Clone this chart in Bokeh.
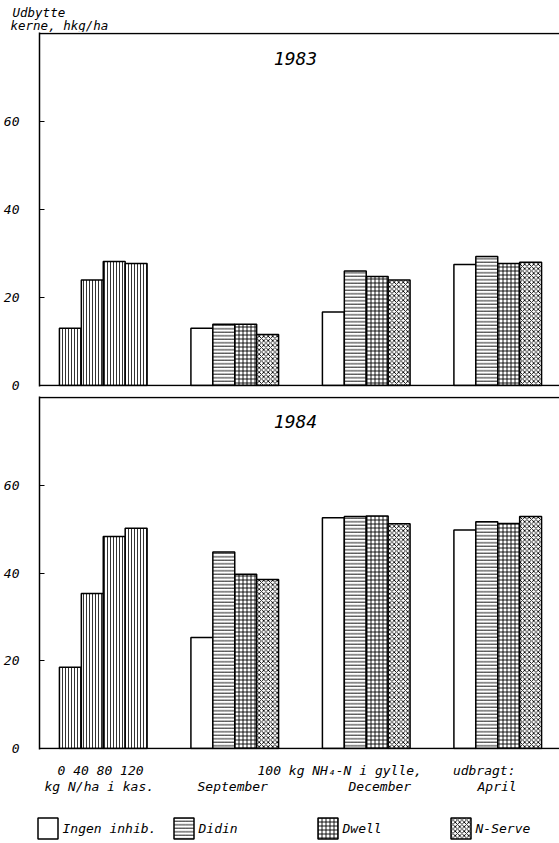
from bokeh.plotting import figure
from bokeh.models import Range1d, FixedTicker, Span, Label, Legend, LegendItem
from bokeh.layouts import column
from bokeh.embed import file_html
from bokeh.resources import INLINE

# ---------------- data ----------------
n_rates = ["0", "40", "80", "120"]
inhibitors = ["Ingen inhib.", "Didin", "Dwell", "N-Serve"]
timings = ["September", "December", "April"]
years = ["1983", "1984"]
y_ticks = [0, 20, 40, 60]

kas_1983 = [13.0, 24.0, 28.2, 27.7]
ingen_1983 = [13.0, 16.7, 27.5]
didin_1983 = [13.9, 26.0, 29.3]
dwell_1983 = [13.9, 24.8, 27.7]
nserve_1983 = [11.6, 24.0, 28.0]

kas_1984 = [18.5, 35.3, 48.3, 50.2]
ingen_1984 = [25.3, 52.6, 49.8]
didin_1984 = [44.8, 52.9, 51.7]
dwell_1984 = [39.7, 53.0, 51.3]
nserve_1984 = [38.5, 51.2, 52.9]

# ---------------- layout helpers ----------------
FONT = "DejaVu Sans Mono"
W = 559
GROUP_PITCH = 6
PX = 22.0                      # pixels per bar unit
X_START = -0.5 - 20 / PX
X_END = X_START + (W - 37) / PX

hatch_styles = {
    "Ingen inhib.": dict(hatch_pattern=None),
    "Didin": dict(hatch_pattern="horizontal_line", hatch_scale=3.5, hatch_weight=0.9),
    "Dwell": dict(hatch_pattern="cross", hatch_scale=4, hatch_weight=0.9),
    "N-Serve": dict(hatch_pattern="diagonal_cross", hatch_scale=4.5, hatch_weight=0.9),
}


def blank_fig(height, y_top, y_bottom):
    f = figure(width=W, height=height,
               x_range=Range1d(0, W), y_range=Range1d(y_bottom, y_top),
               toolbar_location=None, output_backend="svg",
               x_axis_location=None, y_axis_location=None,
               min_border=0, min_border_left=0, min_border_right=0,
               min_border_top=0, min_border_bottom=0, frame_align=False)
    f.grid.visible = False
    f.outline_line_color = None
    f.background_fill_color = "white"
    f.border_fill_color = "white"
    return f


def lab(p, x, y, text, align="left", size="13px"):
    p.add_layout(Label(x=x, y=y, text=text, text_font=FONT,
                       text_font_style="italic", text_font_size=size,
                       text_align=align, text_baseline="middle",
                       text_color="black"))


def make_panel(year, kas, series, height, top, bottom, px_per_val):
    pad = 1 / px_per_val
    p = figure(width=W, height=height,
               x_range=Range1d(X_START, X_END), y_range=Range1d(-pad, 80 + pad),
               toolbar_location=None, output_backend="svg",
               x_axis_location=None, frame_align=False,
               min_border_left=37, min_border_right=0,
               min_border_top=top, min_border_bottom=bottom)
    p.grid.visible = False
    p.outline_line_color = None
    p.background_fill_color = "white"
    p.border_fill_color = "white"

    ax = p.yaxis[0]
    ax.ticker = FixedTicker(ticks=y_ticks)
    ax.major_tick_in = 5
    ax.major_tick_out = 0
    ax.minor_tick_line_color = None
    ax.axis_line_width = 1.5
    ax.axis_line_color = "black"
    ax.major_tick_line_color = "black"
    ax.major_label_standoff = 20
    ax.major_label_text_font = FONT
    ax.major_label_text_font_style = "italic"
    ax.major_label_text_font_size = "13px"
    ax.major_label_text_color = "black"

    kas_x = list(range(len(kas)))
    p.vbar(x=kas_x, top=kas, bottom=0, width=1, fill_color="white",
           line_color="black", line_width=1.5,
           hatch_pattern="vertical_line", hatch_scale=3, hatch_weight=0.8,
           hatch_color="black")

    for j, name in enumerate(inhibitors):
        xs = [(t + 1) * GROUP_PITCH + j for t in range(len(timings))]
        p.vbar(x=xs, top=series[name], bottom=0, width=1,
               fill_color="white", line_color="black", line_width=1.5,
               hatch_color="black", **hatch_styles[name])

    p.add_layout(Span(location=0, dimension="width", line_color="black", line_width=1.5))
    p.add_layout(Span(location=80, dimension="width", line_color="black", line_width=1.5))

    p.add_layout(Label(x=X_START + (294 - 37) / PX, y=327 / px_per_val, text=year,
                       text_font=FONT, text_font_style="italic",
                       text_font_size="18px", text_align="center",
                       text_baseline="middle", text_color="black"))
    return p


s1983 = {"Ingen inhib.": ingen_1983, "Didin": didin_1983,
         "Dwell": dwell_1983, "N-Serve": nserve_1983}
s1984 = {"Ingen inhib.": ingen_1984, "Didin": didin_1984,
         "Dwell": dwell_1984, "N-Serve": nserve_1984}

# ---- top strip: y-axis title ----
p0 = blank_fig(32, 0, 32)
lab(p0, 12, 12, "Udbytte", size="12.5px")
lab(p0, 10, 25, "kerne, hkg/ha", size="12.5px")

# ---- panels ----
# page y 32..393 : frame 32..386 (0 at 385, 80 at 33)
p1 = make_panel(years[0], kas_1983, s1983, 361, 0, 7, 4.4)
# page y 393..758 : frame 396..749 (0 at 748, 80 at 397)
p2 = make_panel(years[1], kas_1984, s1984, 365, 3, 9, 4.3875)

# ---- bottom strip: x labels + legend (page y 758..843) ----
p3 = blank_fig(843 - 758, 758, 843)
lab(p3, 57, 770, " ".join(n_rates))
lab(p3, 257, 770, "100 kg NH\u2084-N i gylle,")
lab(p3, 515, 770, "udbragt:", align="right")
lab(p3, 44, 786, "kg N/ha i kas.")
lab(p3, 197, 786, timings[0])
lab(p3, 348, 786, timings[1])
lab(p3, 477, 786, timings[2])

nan = float("nan")
slots = [34.5, 170.5, 314.5, 447.5]
for name, sx in zip(inhibitors, slots):
    r = p3.vbar(x=[nan], top=[nan], bottom=0, width=1, fill_color="white",
                line_color="black", line_width=1.5, hatch_color="black",
                **hatch_styles[name])
    lg = Legend(items=[LegendItem(label=name, renderers=[r])],
                location=(sx, 1.6), orientation="horizontal",
                glyph_width=25, glyph_height=26, label_standoff=3,
                padding=0, margin=0, spacing=0,
                border_line_color=None, background_fill_alpha=0,
                label_text_font=FONT, label_text_font_style="italic",
                label_text_font_size="13px", label_text_color="black")
    p3.add_layout(lg, "center")

layout = column(p0, p1, p2, p3, spacing=0)

open("out.html", "w").write(file_html(layout, INLINE))
